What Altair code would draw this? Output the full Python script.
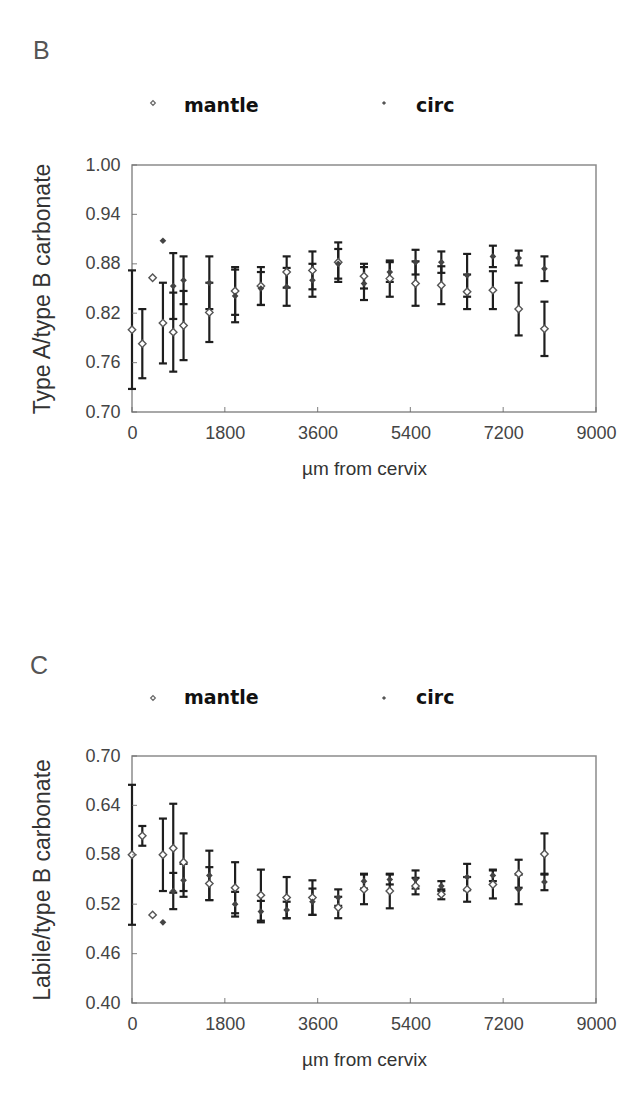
import altair as alt
import pandas as pd

# ---------------- data ----------------
x_um = [0, 200, 400, 600, 800, 1000, 1500, 2000, 2500, 3000,
        3500, 4000, 4500, 5000, 5500, 6000, 6500, 7000, 7500, 8000]

# Panel B: Type A / type B carbonate
b_mantle = [0.800, 0.783, 0.863, 0.808, 0.797, 0.805, 0.821, 0.847, 0.853, 0.870,
            0.872, 0.882, 0.865, 0.862, 0.856, 0.854, 0.846, 0.848, 0.825, 0.801]
b_mantle_err = [0.072, 0.042, None, 0.049, 0.048, 0.042, 0.036, 0.029, 0.023, 0.019,
                0.023, 0.024, 0.015, 0.022, 0.027, 0.023, 0.021, 0.023, 0.032, 0.033]
b_circ = [None, None, None, 0.908, 0.853, 0.860, 0.857, 0.841, 0.850, 0.852,
          0.860, 0.880, 0.856, 0.870, 0.882, 0.882, 0.866, 0.889, 0.887, 0.874]
b_circ_err = [None, None, None, None, 0.040, 0.029, 0.032, 0.032, 0.020, 0.023,
              0.020, 0.018, 0.020, 0.012, 0.015, 0.013, 0.026, 0.013, 0.009, 0.015]

# Panel C: Labile / type B carbonate
c_mantle = [0.580, 0.603, 0.507, 0.580, 0.588, 0.571, 0.545, 0.540, 0.531, 0.528,
            0.528, 0.516, 0.538, 0.536, 0.542, 0.532, 0.538, 0.544, 0.557, 0.581]
c_mantle_err = [0.085, 0.012, None, 0.044, 0.054, 0.035, 0.020, 0.031, 0.031, 0.025,
                0.021, 0.013, 0.018, 0.021, 0.010, 0.006, 0.015, 0.017, 0.017, 0.025]
c_circ = [None, None, None, 0.498, 0.536, 0.549, 0.555, 0.520, 0.511, 0.513,
          0.523, 0.528, 0.548, 0.550, 0.550, 0.542, 0.553, 0.555, 0.538, 0.547]
c_circ_err = [None, None, None, None, 0.022, 0.020, 0.030, 0.015, 0.013, 0.010,
              0.016, 0.010, 0.009, 0.006, 0.011, 0.006, 0.016, 0.007, 0.018, 0.010]

series_names = ["mantle", "circ"]
x_ticks = [0, 1800, 3600, 5400, 7200, 9000]
b_y_ticks = [0.70, 0.76, 0.82, 0.88, 0.94, 1.00]
c_y_ticks = [0.40, 0.46, 0.52, 0.58, 0.64, 0.70]


def long_df(mantle, mantle_err, circ, circ_err):
    rows = []
    for i, x in enumerate(x_um):
        for name, vals, errs in ((series_names[0], mantle, mantle_err),
                                 (series_names[1], circ, circ_err)):
            v = vals[i]
            if v is None:
                continue
            e = errs[i]
            rows.append({"x": x, "series": name, "value": v,
                         "lo": (v - e) if e else None,
                         "hi": (v + e) if e else None})
    return pd.DataFrame(rows)


W, H = 464, 247
FONT = "Liberation Sans"


def panel(letter, df, ydom, yticks, ytitle, letter_pos, marker_y, text_y):
    xs = alt.Scale(domain=[0, 9000], nice=False, zero=False)
    ys = alt.Scale(domain=ydom, nice=False, zero=False)
    xax = alt.Axis(values=x_ticks, ticks=False, domain=False, grid=False,
                   labelFlush=False, labelPadding=12, title="µm from cervix",
                   titlePadding=17, titleFontSize=19, format="d")
    yax = alt.Axis(values=yticks, ticks=False, domain=False, grid=False,
                   labelFlush=False, labelPadding=12, title=ytitle,
                   titlePadding=30, titleFontSize=23, format=".2f")

    def X(f):
        return alt.X(f, scale=xs, axis=xax)

    def Y(f):
        return alt.Y(f, scale=ys, axis=yax)

    base = alt.Chart(df)
    errdf = base.transform_filter("isValid(datum.lo)")

    bars = errdf.mark_rule(color="#1e1e1e", strokeWidth=2.2).encode(
        x=X("x:Q"), y=Y("lo:Q"), y2="hi:Q")
    cap_lo = errdf.mark_tick(orient="horizontal", color="#1e1e1e", size=8,
                             thickness=2.2, opacity=1).encode(
        x=X("x:Q"), y=Y("lo:Q"))
    cap_hi = errdf.mark_tick(orient="horizontal", color="#1e1e1e", size=8,
                             thickness=2.2, opacity=1).encode(
        x=X("x:Q"), y=Y("hi:Q"))
    circ_pts = base.transform_filter(alt.datum.series == series_names[1]).mark_point(
        shape="diamond", filled=True, color="#444444", size=45, opacity=1).encode(
        x=X("x:Q"), y=Y("value:Q"))
    mantle_pts = base.transform_filter(alt.datum.series == series_names[0]).mark_point(
        shape="diamond", fill="white", fillOpacity=1, stroke="#555555",
        strokeWidth=1.4, size=55, opacity=1).encode(
        x=X("x:Q"), y=Y("value:Q"))

    # inward tick marks
    ytick_df = pd.DataFrame({"v": yticks})
    xtick_df = pd.DataFrame({"v": x_ticks})
    yticks_l = alt.Chart(ytick_df).mark_tick(orient="horizontal", color="#666666",
                                             size=5, thickness=1.2).encode(
        y=Y("v:Q"), x=alt.value(2.5))
    xticks_l = alt.Chart(xtick_df).mark_tick(orient="vertical", color="#666666",
                                             size=5, thickness=1.2).encode(
        x=X("v:Q"), y=alt.value(H - 2.5))

    # legend (drawn above the plot)
    leg_df = pd.DataFrame({"label": series_names})
    leg_m_marker = alt.Chart(leg_df).transform_filter(
        alt.datum.label == series_names[0]).mark_point(
        shape="diamond", fill="white", fillOpacity=1, stroke="#666666",
        strokeWidth=1.2, size=22, opacity=1).encode(
        x=alt.value(21), y=alt.value(marker_y))
    leg_c_marker = alt.Chart(leg_df).transform_filter(
        alt.datum.label == series_names[1]).mark_point(
        shape="diamond", filled=True, color="#555555", size=18, opacity=1).encode(
        x=alt.value(252), y=alt.value(marker_y))
    leg_m_text = alt.Chart(leg_df).transform_filter(
        alt.datum.label == series_names[0]).mark_text(
        align="left", baseline="alphabetic", font="DejaVu Sans", fontWeight="bold",
        fontSize=19, color="#111111").encode(
        text="label:N", x=alt.value(52), y=alt.value(text_y))
    leg_c_text = alt.Chart(leg_df).transform_filter(
        alt.datum.label == series_names[1]).mark_text(
        align="left", baseline="alphabetic", font="DejaVu Sans", fontWeight="bold",
        fontSize=19, color="#111111").encode(
        text="label:N", x=alt.value(284), y=alt.value(text_y))

    letter_l = alt.Chart(pd.DataFrame({"t": [letter]})).mark_text(
        align="left", baseline="alphabetic", font=FONT, fontSize=25,
        color="#555555").encode(
        text="t:N", x=alt.value(letter_pos[0]), y=alt.value(letter_pos[1]))

    return alt.layer(bars, cap_lo, cap_hi, mantle_pts, circ_pts, yticks_l, xticks_l,
                     leg_m_marker, leg_c_marker, leg_m_text, leg_c_text,
                     letter_l).properties(width=W, height=H)


df_b = long_df(b_mantle, b_mantle_err, b_circ, b_circ_err)
df_c = long_df(c_mantle, c_mantle_err, c_circ, c_circ_err)

pb = panel("B", df_b, [0.70, 1.00], b_y_ticks, "Type A/type B carbonate",
           (-99, -106), -62, -53)
pc = panel("C", df_c, [0.40, 0.70], c_y_ticks, "Labile/type B carbonate",
           (-102, -82), -58, -52)

chart = alt.vconcat(pb, pc, spacing=344, bounds="flush").properties(
    padding={"left": 21, "top": 30, "right": 10, "bottom": 10}
).configure_view(
    stroke="#8c8c8c", strokeWidth=1.5
).configure_axis(
    labelFont=FONT, titleFont=FONT, labelColor="#444444", titleColor="#333333",
    labelFontSize=18, titleFontWeight="normal"
)

chart.save("out.html", embed_options={"renderer": "svg", "actions": False})
